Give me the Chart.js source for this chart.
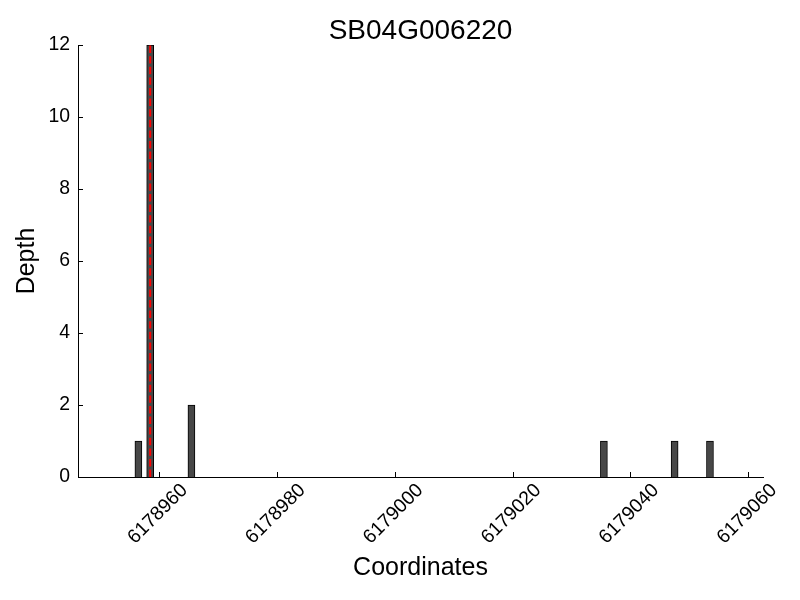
<!DOCTYPE html>
<html>
<head>
<meta charset="utf-8">
<script src="https://cdn.jsdelivr.net/npm/chart.js@4/dist/chart.umd.min.js"></script>
<style>
  html, body { margin: 0; padding: 0; background: #fff; }
  #wrap { width: 800px; height: 600px; }
</style>
</head>
<body>
<div id="wrap"><canvas id="c" width="800" height="600"></canvas></div>
<script>
// ---- data ----
const titleText = "SB04G006220";
const positions = [6178956.5, 6178958.5, 6178965.5, 6179035.5, 6179047.5, 6179053.5];
const depths = [1, 12, 2, 1, 1, 1];
const markerX = 6178958.5;          // red dashed marker position
const markerY = [0, 12];
const xTicks = [6178960, 6178980, 6179000, 6179020, 6179040, 6179060];
const yTicks = [0, 2, 4, 6, 8, 10, 12];
const xRange = [6178946.25, 6179062.5];
const yRange = [0, 12];

const FONT = "'Liberation Sans', Arial, Helvetica, sans-serif";

const inwardTicks = {
  id: 'inwardTicks',
  afterDraw(chart) {
    const ctx = chart.ctx;
    const xs = chart.scales.x, ys = chart.scales.y;
    const a = chart.chartArea;
    ctx.save();
    ctx.strokeStyle = '#000';
    ctx.lineWidth = 1;
    ctx.beginPath();
    xTicks.forEach(v => {
      const px = Math.round(xs.getPixelForValue(v)) + 0.5;
      ctx.moveTo(px, a.bottom);
      ctx.lineTo(px, a.bottom - 5);
    });
    yTicks.forEach(v => {
      const py = Math.round(ys.getPixelForValue(v)) + 0.5;
      ctx.moveTo(a.left, py);
      ctx.lineTo(a.left + 5, py);
    });
    ctx.stroke();
    // title centred over the plot area
    ctx.fillStyle = '#000';
    ctx.font = "28px " + FONT;
    ctx.textAlign = 'center';
    ctx.textBaseline = 'alphabetic';
    ctx.fillText(titleText, (a.left + a.right) / 2, 38.5);
    ctx.restore();
  }
};

new Chart(document.getElementById('c'), {
  type: 'bar',
  data: {
    datasets: [
      {
        type: 'line',
        data: markerY.map(y => ({ x: markerX, y: y })),
        borderColor: '#ff0000',
        borderWidth: 2,
        borderDash: [7.4, 3.2],
        pointRadius: 0,
        fill: false,
        order: 0
      },
      {
        type: 'bar',
        data: positions.map((x, i) => ({ x: x, y: depths[i] })),
        backgroundColor: '#474747',
        borderColor: '#000000',
        borderWidth: 1,
        borderSkipped: 'start',
        barThickness: 7,
        order: 1
      }
    ]
  },
  options: {
    responsive: false,
    animation: false,
    devicePixelRatio: 1,
    layout: { padding: { left: 0, right: 37, top: 45, bottom: 0 } },
    plugins: {
      legend: { display: false },
      tooltip: { enabled: false },
      title: { display: false }
    },
    scales: {
      x: {
        type: 'linear',
        min: xRange[0],
        max: xRange[1],
        offset: false,
        grid: { display: false, drawTicks: false },
        border: { display: true, color: '#000', width: 1 },
        afterBuildTicks: s => { s.ticks = xTicks.map(v => ({ value: v })); },
        afterFit: s => { s.height = 123; },
        ticks: {
          color: '#000',
          font: { family: FONT, size: 19.4 },
          minRotation: 45,
          maxRotation: 45,
          labelOffset: 25.5,
          padding: 2,
          autoSkip: false,
          callback: v => String(v)
        },
        title: {
          display: true,
          text: 'Coordinates',
          color: '#000',
          font: { family: FONT, size: 25 },
          padding: { top: 0, bottom: 17 }
        }
      },
      y: {
        type: 'linear',
        min: yRange[0],
        max: yRange[1],
        grid: { display: false, drawTicks: false },
        border: { display: true, color: '#000', width: 1 },
        afterBuildTicks: s => { s.ticks = yTicks.map(v => ({ value: v })); },
        afterFit: s => { s.width = 78; },
        ticks: {
          color: '#000',
          font: { family: FONT, size: 19.4 },
          padding: 8,
          callback: v => String(v)
        },
        title: {
          display: true,
          text: 'Depth',
          color: '#000',
          font: { family: FONT, size: 25 },
          padding: { top: 12, bottom: 0 }
        }
      }
    }
  },
  plugins: [inwardTicks]
});
</script>
</body>
</html>
